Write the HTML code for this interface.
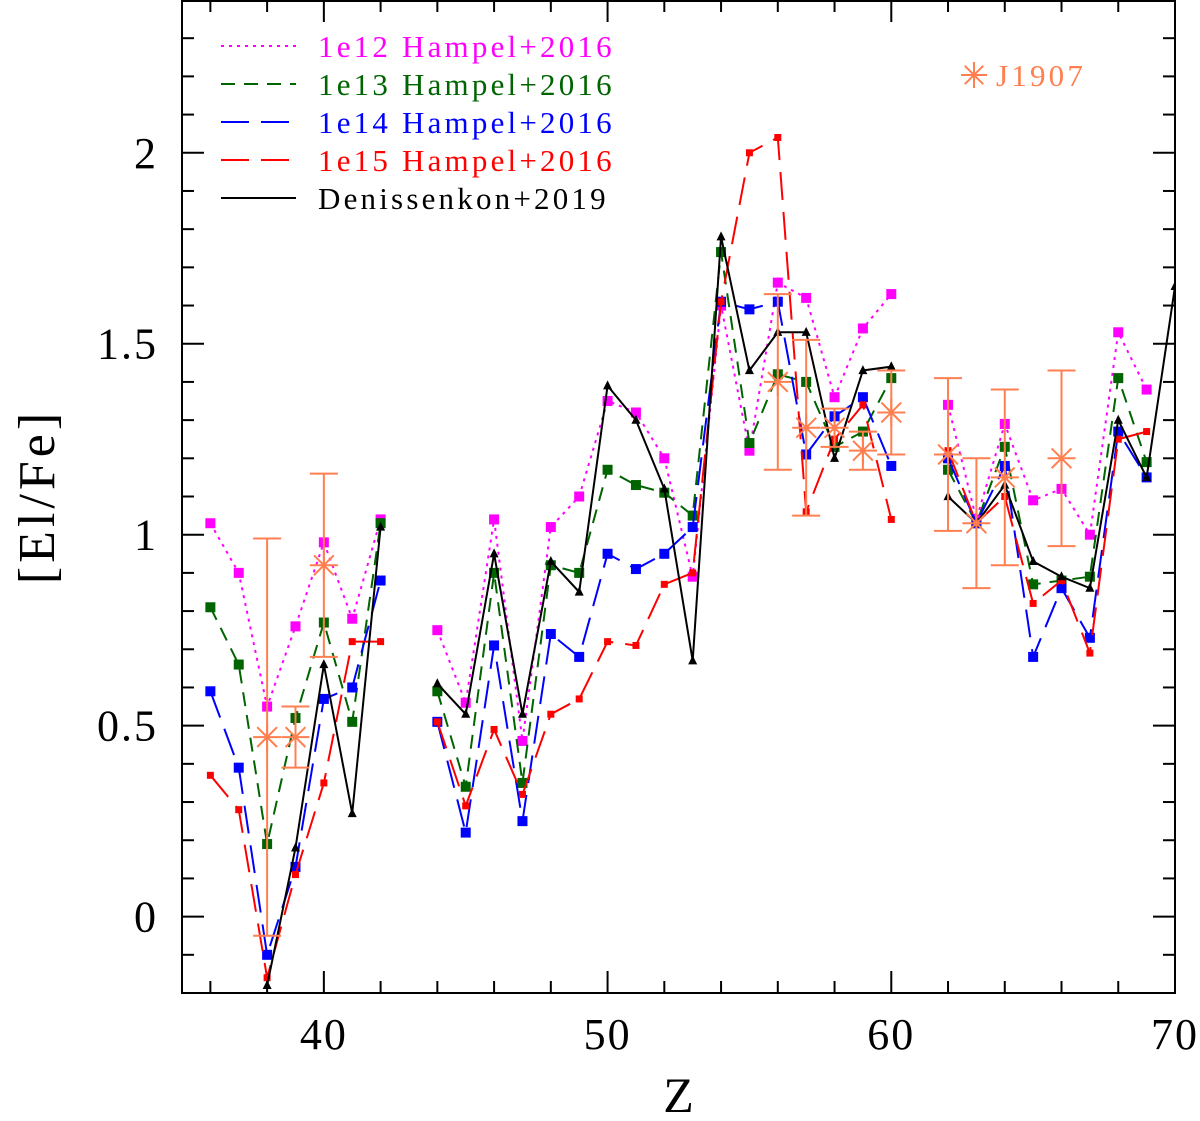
<!DOCTYPE html>
<html><head><meta charset="utf-8"><style>
body{margin:0;background:#fff}
svg text{font-family:"Liberation Serif",serif}
</style></head><body>
<svg id="chart" width="1200" height="1116" viewBox="0 0 1200 1116" xmlns="http://www.w3.org/2000/svg"></svg>
<script>
const zHampel=[36,37,38,39,40,41,42,44,45,46,47,48,49,50,51,52,53,54,55,56,57,58,59,60,62,63,64,65,66,67,68,69];
const v1e12=[1.03,0.90,0.55,0.76,0.98,0.78,1.04,0.75,0.56,1.04,0.46,1.02,1.10,1.35,1.32,1.20,0.89,1.60,1.22,1.66,1.62,1.36,1.54,1.63,1.34,1.04,1.29,1.09,1.12,1.00,1.53,1.38];
const v1e13=[0.81,0.66,0.19,0.52,0.77,0.51,1.03,0.59,0.34,0.90,0.35,0.92,0.90,1.17,1.13,1.11,1.05,1.74,1.24,1.42,1.40,1.23,1.27,1.41,1.17,1.03,1.23,0.87,0.88,0.89,1.41,1.19];
const v1e14=[0.59,0.39,-0.10,0.13,0.57,0.60,0.88,0.51,0.22,0.71,0.25,0.74,0.68,0.95,0.91,0.95,1.02,1.61,1.59,1.61,1.21,1.31,1.36,1.18,1.20,1.03,1.18,0.68,0.86,0.73,1.27,1.15];
const v1e15=[0.37,0.28,-0.16,0.11,0.35,0.72,0.72,0.51,0.29,0.49,0.32,0.53,0.57,0.72,0.71,0.87,0.90,1.61,2.00,2.04,1.06,1.25,1.34,1.04,1.22,1.03,1.10,0.82,0.88,0.69,1.25,1.27];
const zDen=[38,39,40,41,42,44,45,46,47,48,49,50,51,52,53,54,55,56,57,58,59,60,62,63,64,65,66,67,68,69,70];
const vDen=[-0.18,0.18,0.66,0.27,1.02,0.61,0.53,0.95,0.53,0.93,0.85,1.39,1.30,1.12,0.67,1.78,1.43,1.53,1.53,1.20,1.43,1.44,1.10,1.03,1.13,0.93,0.89,0.86,1.30,1.15,1.65];
const zObs=[38,39,40,56,57,58,59,60,62,63,64,66];
const vObs=[0.47,0.47,0.92,1.40,1.28,1.28,1.22,1.32,1.21,1.03,1.15,1.20];
const eObs=[0.52,0.08,0.24,0.23,0.23,0.05,0.05,0.11,0.20,0.17,0.23,0.23];
const xTicks=[40,50,60,70];
const yTicks=[0,0.5,1,1.5,2];
const yTickLabels=["0","0.5","1","1.5","2"];

const NS="http://www.w3.org/2000/svg";
const svg=document.getElementById('chart');
const L=182,R=1175,T=0,B=993,xmin=35,xmax=70,ymin=-0.2,ymax=2.4;
const X=z=>L+(z-xmin)/(xmax-xmin)*(R-L);
const Y=v=>B-(v-ymin)/(ymax-ymin)*(B-T);
function el(tag,attrs,parent){const e=document.createElementNS(NS,tag);for(const k in attrs)e.setAttribute(k,attrs[k]);(parent||svg).appendChild(e);return e;}

const clip=el('clipPath',{id:'pc'});el('rect',{x:L,y:T,width:R-L,height:B-T},clip);
const plot=el('g',{'clip-path':'url(#pc)'});



function series(zs,vs,color,dash,name,marker,ms){
  const g=el('g',{},plot);
  
  
  let segs=[],cur=[];
  zs.forEach((z,i)=>{if(i>0&&z-zs[i-1]>1){segs.push(cur);cur=[];}cur.push(X(z)+','+Y(vs[i]));});
  segs.push(cur);
  segs.forEach(s=>el('polyline',{points:s.join(' '),fill:'none',stroke:color,'stroke-width':2,'stroke-dasharray':dash},g));
  zs.forEach((z,i)=>{
    let m;
    if(marker==='sq') m=el('rect',{x:X(z)-ms/2,y:Y(vs[i])-ms/2,width:ms,height:ms,fill:color},g);
    else m=el('polygon',{points:`${X(z)},${Y(vs[i])-ms*0.6} ${X(z)-ms/2},${Y(vs[i])+ms*0.4} ${X(z)+ms/2},${Y(vs[i])+ms*0.4}`,fill:color},g);
    
    
  });
}
series(zHampel,v1e12,'#ff00ff','3 5','series-1e12','sq',10);
series(zHampel,v1e13,'#006400','14 9','series-1e13','sq',10);
series(zHampel,v1e14,'#0000ff','28 12','series-1e14','sq',10);
series(zHampel,v1e15,'#ff0000','28 12','series-1e15','sq',7);
series(zDen,vDen,'#000000','','series-denissenkov','tri',9);

const oc='#ff7f50';
const og=el('g',{},plot);


function star(cx,cy,r,g){[0,45,90,135].forEach(a=>{const rad=a*Math.PI/180;el('line',{x1:cx-r*Math.cos(rad),y1:cy-r*Math.sin(rad),x2:cx+r*Math.cos(rad),y2:cy+r*Math.sin(rad),stroke:oc,'stroke-width':2},g);});}
zObs.forEach((z,i)=>{
  const x=X(z),y1=Y(vObs[i]-eObs[i]),y2=Y(vObs[i]+eObs[i]);
  el('line',{x1:x,y1:y1,x2:x,y2:y2,stroke:oc,'stroke-width':2},og);
  el('line',{x1:x-14,y1:y1,x2:x+14,y2:y1,stroke:oc,'stroke-width':2},og);
  el('line',{x1:x-14,y1:y2,x2:x+14,y2:y2,stroke:oc,'stroke-width':2},og);
  star(x,Y(vObs[i]),14,og);
});

const ax=el('g',{});


el('rect',{x:L,y:T+1,width:R-L,height:B-T-1,fill:'none',stroke:'#000','stroke-width':2},ax);
for(let z=36;z<=70;z+=2){const maj=z%10===0,len=maj?22:12;
  el('line',{x1:X(z),y1:B,x2:X(z),y2:B-len,stroke:'#000','stroke-width':2},ax);
  el('line',{x1:X(z),y1:T,x2:X(z),y2:T+len,stroke:'#000','stroke-width':2},ax);}
for(let k=-2;k<=24;k++){const v=k/10,maj=k%5===0,len=maj?22:12;
  el('line',{x1:L,y1:Y(v),x2:L+len,y2:Y(v),stroke:'#000','stroke-width':2},ax);
  el('line',{x1:R,y1:Y(v),x2:R-len,y2:Y(v),stroke:'#000','stroke-width':2},ax);}
xTicks.forEach(t=>{const tx=el('text',{x:X(t),y:B+56,'font-size':44,'text-anchor':'middle','letter-spacing':'2'},ax);tx.textContent=t;
  
  });
yTicks.forEach((t,i)=>{const tx=el('text',{x:L-24,y:Y(t)+15,'font-size':44,'text-anchor':'end','letter-spacing':'2'},ax);tx.textContent=yTickLabels[i];
  
  });
const xl=el('text',{x:(L+R)/2,y:1112,'font-size':50,'text-anchor':'middle'},ax);xl.textContent='Z';


const yl=el('text',{x:0,y:0,'font-size':52,'text-anchor':'middle','letter-spacing':'4',transform:`translate(54,${(T+B)/2}) rotate(-90)`},ax);yl.textContent='[El/Fe]';



const lg=el('g',{});


const legLabels=['1e12 Hampel+2016','1e13 Hampel+2016','1e14 Hampel+2016','1e15 Hampel+2016','Denissenkon+2019'];
const legColors=['#ff00ff','#006400','#0000ff','#ff0000','#000000'];
const legDash=['3 5','14 9','28 12','28 12',''];
legLabels.forEach((s,i)=>{const y=46+i*38;
  el('line',{x1:221,y1:y,x2:296,y2:y,stroke:legColors[i],'stroke-width':2,'stroke-dasharray':legDash[i]},lg);
  const t=el('text',{x:318,y:y+11,'font-size':31,fill:legColors[i],'letter-spacing':'3.2'},lg);t.textContent=s;
  
  });
star(974,75,13,lg);
const jt=el('text',{x:996,y:86,'font-size':31,fill:oc,'letter-spacing':'3.2'},lg);jt.textContent='J1907';


</script>
</body></html>
